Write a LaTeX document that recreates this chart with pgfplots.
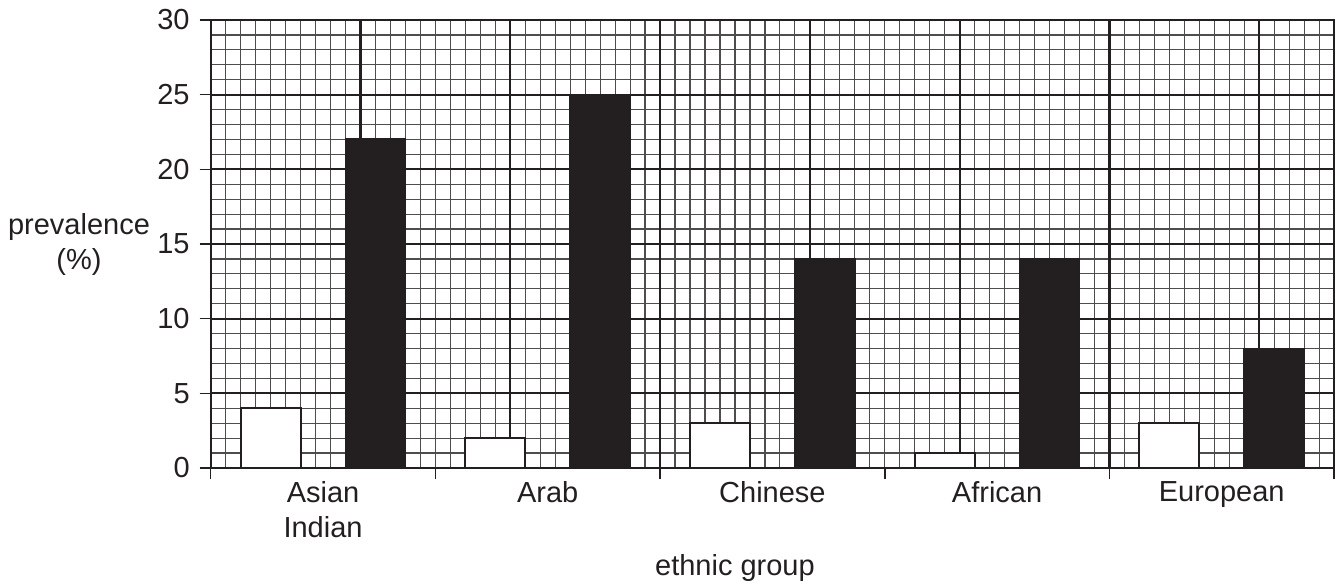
\documentclass[border=0pt]{standalone}
\usepackage{fontspec}
\setmainfont{Liberation Sans}
\usepackage{pgfplots}
\pgfplotsset{compat=1.18}
\definecolor{ink}{HTML}{231F20}
\begin{document}
\fontsize{14.5}{17.5}\selectfont
\begin{tikzpicture}
\useasboundingbox (-105.35pt,-58.5pt) rectangle (564.65pt,234pt);
\begin{axis}[
  at={(0,0)}, anchor=south west,
  scale only axis, width=561.7pt, height=224pt,
  xmin=0, xmax=75, ymin=0, ymax=30,
  axis line style={ink, line width=1pt},
  every tick/.style={ink, line width=0.8pt},
  tick align=outside, tick pos=left,
  major tick length=5.5pt, minor tick length=0pt,
  xtick={0,15,...,75},
  x tick label as interval,
  xticklabels={{Asian\\Indian},Arab,Chinese,African,European},
  xticklabel style={align=center, text=ink, yshift=4pt, font=\fontsize{14.5}{17.5}\selectfont},
  ytick={0,5,...,30},
  yticklabel style={text=ink, font=\fontsize{14.5}{17.5}\selectfont},
  /pgf/number format/assume math mode=true,
  minor xtick={1,...,74},
  minor ytick={1,2,3,4,6,7,8,9,11,12,13,14,16,17,18,19,21,22,23,24,26,27,28,29},
  xmajorgrids=false, xminorgrids=true,
  ymajorgrids=true, yminorgrids=true,
  minor grid style={ink!80, line width=0.6pt},
  major grid style={ink, line width=1.1pt},
  extra x ticks={10,20,...,70},
  extra x tick labels={},
  extra x tick style={xmajorgrids=true, major tick length=0pt, major grid style={ink, line width=1.1pt}},
  ylabel={prevalence\\(\%)},
  every axis y label/.style={at={(rel axis cs:0,0.5)}, anchor=center, xshift=-65.85pt, align=center, text=ink},
  xlabel={ethnic group},
  every axis x label/.style={at={(rel axis cs:0.4667,0)}, anchor=base, yshift=-53.5pt, text=ink},
]
\addplot[ybar, bar width=4, bar shift=0pt, fill=white, draw=ink, line width=1pt]
  coordinates {(4,4) (19,2) (34,3) (49,1) (64,3)};
\addplot[ybar, bar width=4, bar shift=0pt, fill=ink, draw=ink, line width=1pt]
  coordinates {(11,22) (26,25) (41,14) (56,14) (71,8)};
\end{axis}
\end{tikzpicture}
\end{document}
